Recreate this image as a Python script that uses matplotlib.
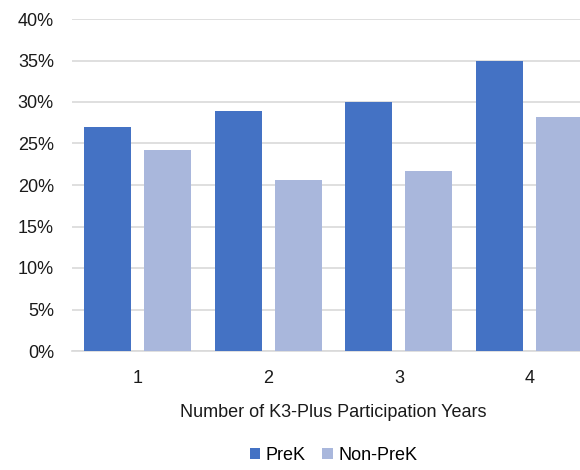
import numpy as np
import matplotlib.pyplot as plt
from matplotlib.ticker import PercentFormatter

plt.rcParams['font.family'] = ['Liberation Sans', 'DejaVu Sans']

years = ['1', '2', '3', '4']
prek = [27.0, 28.9, 30.0, 34.9]
non_prek = [24.2, 20.6, 21.7, 28.2]

fs = 13

fig = plt.figure(figsize=(5.8, 4.7), dpi=100)
ax = fig.add_axes([72/580, 1 - 351/470, 523/580, 332/470])

x = np.arange(len(years))
w = 0.36
ax.bar(x - 0.23, prek, w, color='#4472C4', label='PreK', zorder=3)
ax.bar(x + 0.23, non_prek, w, color='#A9B7DC', label='Non-PreK', zorder=3)

ax.set_xlim(-0.5, 3.5)
ax.set_ylim(0, 40)
ax.set_yticks(range(0, 41, 5))
ax.yaxis.set_major_formatter(PercentFormatter(decimals=0))
ax.set_xticks(x)
ax.set_xticklabels(years)
ax.tick_params(length=0, labelsize=fs, colors='#1a1a1a')
ax.tick_params(axis='y', pad=13)
ax.tick_params(axis='x', pad=14)
ax.grid(axis='y', color='#d9d9d9', linewidth=1.2, zorder=0)
for s in ['top', 'right', 'left']:
    ax.spines[s].set_visible(False)
ax.spines['bottom'].set_color('#d9d9d9')
ax.spines['bottom'].set_linewidth(1.2)

ax.set_xlabel('Number of K3-Plus Participation Years', fontsize=fs, color='#1a1a1a', labelpad=12)
ax.legend(loc='upper center', bbox_to_anchor=(0.5, -0.25), ncol=2, frameon=False,
          fontsize=fs, handlelength=0.6, handleheight=0.6, handletextpad=0.3,
          columnspacing=0.9, borderpad=0.2)

fig.savefig('out.png', dpi=100)
